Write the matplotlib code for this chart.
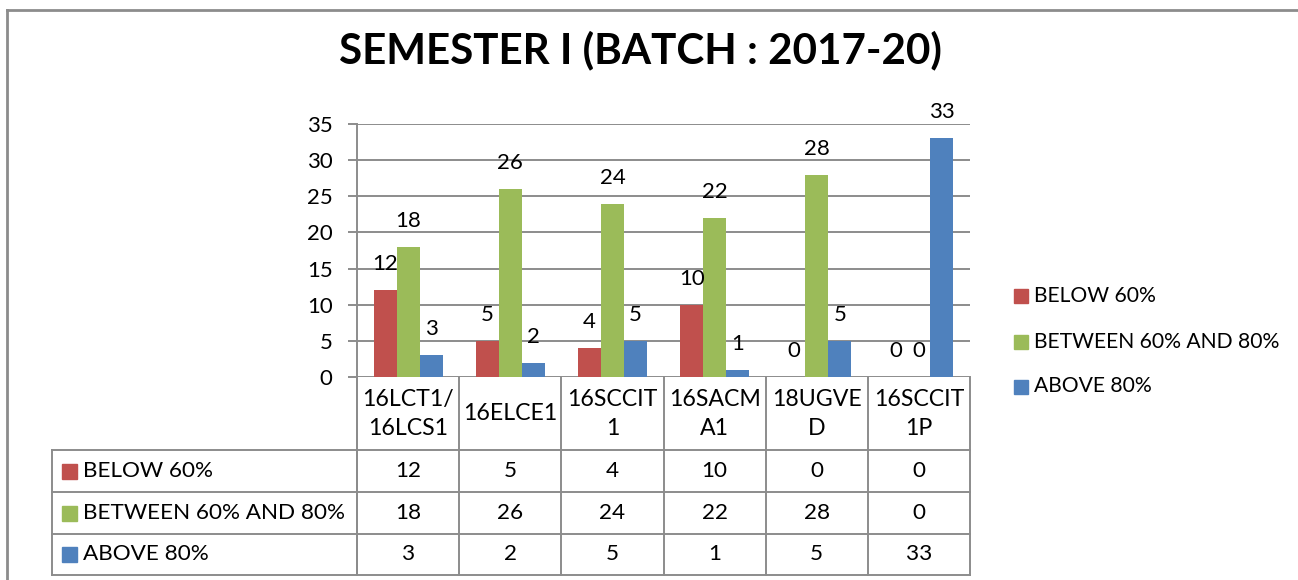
import matplotlib
matplotlib.use("Agg")
import matplotlib.pyplot as plt
from matplotlib.lines import Line2D
from matplotlib.patches import Rectangle
import matplotlib.transforms as mtransforms
import numpy as np

# ---- data ----
categories = ["16LCT1/\n16LCS1", "16ELCE1", "16SCCIT\n1", "16SACM\nA1", "18UGVE\nD", "16SCCIT\n1P"]
series_names = ["BELOW 60%", "BETWEEN 60% AND 80%", "ABOVE 80%"]
below_60 = [12, 5, 4, 10, 0, 0]
between_60_80 = [18, 26, 24, 22, 28, 0]
above_80 = [3, 2, 5, 1, 5, 33]
title = "SEMESTER I (BATCH : 2017-20)"
yticks = [0, 5, 10, 15, 20, 25, 30, 35]

colors = ["#C0504D", "#9BBB59", "#4F81BD"]
series = [below_60, between_60_80, above_80]

plt.rcParams['font.family'] = ['Lato', 'DejaVu Sans']

W, H = 1298, 580
fig = plt.figure(figsize=(W / 100, H / 100), dpi=100)
fig.patch.set_facecolor("white")

def fx(x):
    return x / W

def fy(y):
    return 1 - y / H

GRAY = "#8C8C8C"
LW = 1.4
FS = 15.5
FS_TAB = 16.2
FS_LEG = 15.2

# plot area in pixels
L, R, T, B = 357, 970, 124, 377
ax = fig.add_axes([fx(L), fy(B), fx(R - L), (B - T) / H])
n = len(categories)
x = np.arange(n)
bw = 0.225
for i, (vals, c) in enumerate(zip(series, colors)):
    pos = x + (i - 1) * bw
    ax.bar(pos, vals, width=bw, color=c, zorder=3)
    for xp, v in zip(pos, vals):
        ax.annotate(str(v), (xp, v), xytext=(0, 18.7), textcoords="offset points",
                    ha="center", va="center", fontsize=FS + 0.5, clip_on=False, zorder=4)

ax.set_xlim(-0.5, n - 0.5)
ax.set_ylim(0, 35)
ax.set_yticks(yticks)
ax.set_yticklabels([str(t) for t in yticks], fontsize=FS + 0.5)
ax.set_xticks([])
for s in ax.spines.values():
    s.set_visible(False)
ax.yaxis.grid(True, color=GRAY, linewidth=LW, zorder=0)
ax.tick_params(axis="y", length=6.5, width=LW, color=GRAY, direction="out", pad=11)
ax.set_facecolor("none")

# title
fig.text(fx(640), fy(50), title, ha="center", va="center", fontsize=30.3, fontweight="bold")

# outer chart border (partially visible)
fig.add_artist(Line2D([fx(7), fx(1298)], [fy(10), fy(10)], color=GRAY, lw=2.0))
fig.add_artist(Line2D([fx(7), fx(7)], [fy(10), fy(580)], color=GRAY, lw=2.0))

# y axis line extended through table
fig.add_artist(Line2D([fx(L), fx(L)], [fy(T), fy(575)], color=GRAY, lw=LW))

# table
blend = mtransforms.blended_transform_factory(ax.transData, fig.transFigure)
row_lines = [450, 492, 534, 575]
for yy in row_lines:
    fig.add_artist(Line2D([fx(52), fx(R)], [fy(yy), fy(yy)], color=GRAY, lw=LW))
fig.add_artist(Line2D([fx(52), fx(52)], [fy(450), fy(575)], color=GRAY, lw=LW))
for b in np.arange(n + 1) - 0.5:
    fig.add_artist(Line2D([b, b], [fy(B), fy(575)], color=GRAY, lw=LW, transform=blend))

# category labels
for xi, cat in zip(x, categories):
    fig.text(xi, fy(414), cat, transform=blend, ha="center", va="center",
             fontsize=FS_TAB + 0.5, linespacing=1.5)

# table rows
row_centers = [471, 513, 554.5]
for name, vals, c, yc in zip(series_names, series, colors, row_centers):
    fig.add_artist(Rectangle((fx(62), fy(yc + 7.5)), fx(15), 15 / H, color=c))
    fig.text(fx(83), fy(yc), name, ha="left", va="center", fontsize=FS_TAB)
    for xi, v in zip(x, vals):
        fig.text(xi, fy(yc), str(v), transform=blend, ha="center", va="center", fontsize=FS_TAB)

# legend on right
leg_centers = [296, 341.5, 386.5]
for name, c, yc in zip(series_names, colors, leg_centers):
    fig.add_artist(Rectangle((fx(1014), fy(yc + 7)), fx(14), 14 / H, color=c))
    fig.text(fx(1034), fy(yc), name, ha="left", va="center", fontsize=FS_LEG)

fig.savefig("out.png", dpi=100)
